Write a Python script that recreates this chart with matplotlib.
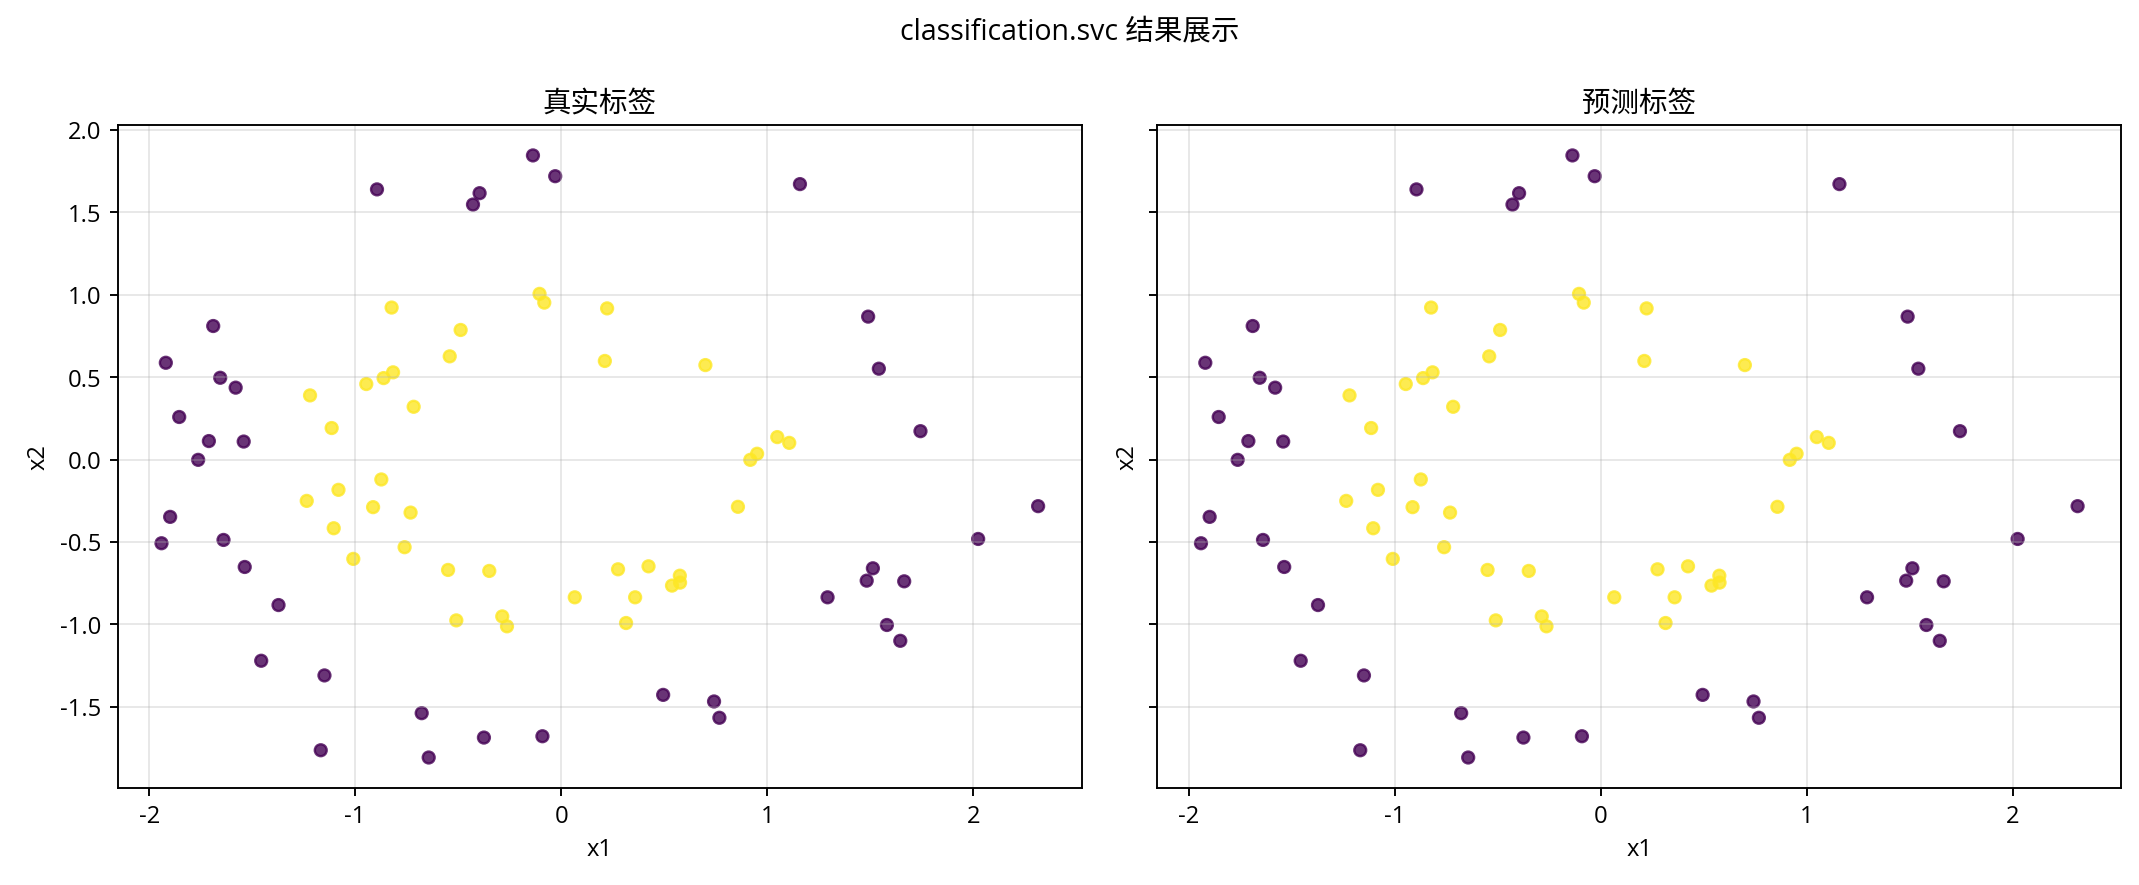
import matplotlib
matplotlib.use("Agg")
import matplotlib.pyplot as plt
import numpy as np

plt.rcParams['font.family'] = ['Open Sans', 'Noto Sans CJK SC', 'DejaVu Sans']
plt.rcParams['axes.unicode_minus'] = False

DPI = 171

# test points (x1, x2), label 0 = outer ring, 1 = inner ring
x1_outer = [-0.137, -0.029, -0.894, -0.396, -0.428, -1.689, -1.919, -1.655,
            -1.580, -1.854, -1.710, -1.541, -1.762, 1.159, 1.490, 1.542,
            1.744, -1.898, -1.940, -1.639, -1.536, -1.372, -1.456, -1.149,
            -0.677, -0.375, -0.091, -1.167, -0.643, 2.315, 2.024, 1.513,
            1.483, 1.665, 1.293, 1.581, 1.646, 0.495, 0.742, 0.768]
x2_outer = [1.845, 1.719, 1.639, 1.616, 1.547, 0.810, 0.587, 0.496,
            0.436, 0.258, 0.112, 0.109, -0.002, 1.671, 0.867, 0.551,
            0.172, -0.348, -0.508, -0.488, -0.652, -0.883, -1.221, -1.310,
            -1.539, -1.687, -1.679, -1.764, -1.808, -0.283, -0.482, -0.660,
            -0.735, -0.739, -0.836, -1.004, -1.100, -1.428, -1.468, -1.567]

x1_inner = [-0.105, -0.082, -0.823, -0.488, -0.541, -0.816, -0.862, -0.946,
            -1.219, -0.716, -1.114, 0.223, 0.212, 0.700, 1.049, 1.107,
            0.951, 0.918, -0.873, -1.081, -1.235, -0.913, -0.731, -1.104,
            -0.760, -1.009, -0.549, -0.349, 0.066, -0.509, -0.286, -0.263,
            0.858, 0.276, 0.424, 0.576, 0.577, 0.538, 0.359, 0.315]
x2_inner = [1.005, 0.952, 0.922, 0.786, 0.626, 0.529, 0.494, 0.458,
            0.389, 0.320, 0.191, 0.917, 0.598, 0.573, 0.136, 0.101,
            0.035, -0.002, -0.121, -0.184, -0.251, -0.289, -0.322, -0.417,
            -0.532, -0.603, -0.670, -0.676, -0.836, -0.976, -0.952, -1.012,
            -0.287, -0.666, -0.648, -0.705, -0.747, -0.765, -0.836, -0.992]

X1 = np.array(x1_outer + x1_inner)
X2 = np.array(x2_outer + x2_inner)
y_true = np.array([0] * len(x1_outer) + [1] * len(x1_inner))
y_pred = y_true.copy()  # the classifier got every test point right

fig, axes = plt.subplots(1, 2, figsize=(2139.4 / DPI, 885.4 / DPI), dpi=DPI, sharey=True)
fig.subplots_adjust(left=0.055, right=0.9916, bottom=0.110, top=0.858, wspace=0.078)

for ax, labels, title in zip(axes, [y_true, y_pred], ["真实标签", "预测标签"]):
    ax.scatter(X1, X2, c=labels, cmap="viridis", alpha=0.8, s=25)
    ax.set_title(title, fontsize=12)
    ax.set_xlabel("x1")
    ax.set_ylabel("x2")
    ax.grid(alpha=0.3)

fig.suptitle("classification.svc 结果展示", fontsize=12)

plt.savefig("out.png", dpi=DPI)
plt.close()
